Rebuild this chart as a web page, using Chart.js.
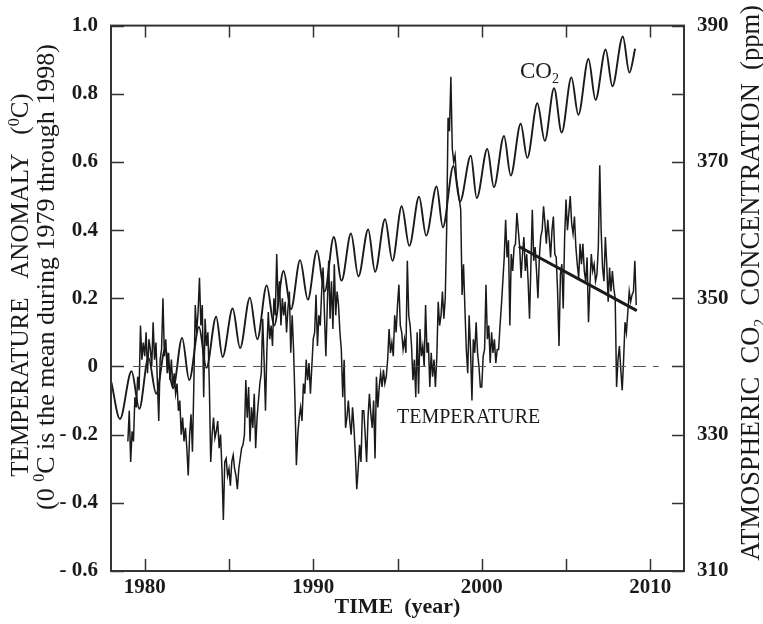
<!DOCTYPE html>
<html>
<head>
<meta charset="utf-8">
<script src="https://cdn.jsdelivr.net/npm/chart.js@4.4.1/dist/chart.umd.min.js"></script>
<style>
  html, body { margin: 0; padding: 0; background: #fff; }
  #wrap { width: 763px; height: 624px; position: relative; }
</style>
</head>
<body>
<div id="wrap"><canvas id="chart"></canvas></div>
<script>
// monthly lower troposphere temperature anomaly (deg C), one value per month from Jan 1979
const tempStart = 1979;
const tempAnomaly = [
  -0.22, -0.13, -0.28, -0.19, -0.22, -0.09, -0.12, -0.03, -0.07, 0.12, 0.02, 0.07,   // 1979
  0.03, 0.10, -0.02, 0.08, 0.05, 0.00, 0.13, 0.02, 0.07, -0.04, -0.16, 0.02,         // 1980
  0.05, 0.20, 0.03, 0.08, -0.02, 0.04, -0.04, 0.02, -0.06, -0.02, -0.08, -0.05,      // 1981
  -0.13, -0.10, -0.20, -0.15, -0.22, -0.18, -0.24, -0.32, -0.20, -0.14, -0.25, -0.05, // 1982
  0.18, 0.10, 0.16, 0.26, 0.12, 0.18, -0.09, 0.14, 0.06, 0.10, -0.05, -0.28,         // 1983
  -0.20, -0.15, -0.21, -0.19, -0.16, -0.24, -0.20, -0.30, -0.45, -0.28, -0.27, -0.32, // 1984
  -0.30, -0.35, -0.28, -0.26, -0.30, -0.32, -0.36, -0.30, -0.27, -0.24, -0.23, -0.20, // 1985
  -0.04, -0.15, -0.06, -0.22, -0.12, -0.18, -0.08, -0.24, -0.15, -0.10, -0.05, -0.02, // 1986
  0.14, 0.02, -0.13, 0.05, 0.16, 0.08, 0.12, 0.06, 0.20, 0.15, 0.33, 0.18,           // 1987
  0.25, 0.12, 0.20, 0.15, 0.19, 0.10, 0.17, 0.22, 0.04, 0.15, 0.05, -0.10,           // 1988
  -0.29, -0.20, -0.15, -0.12, -0.16, -0.05, -0.08, 0.02, -0.04, 0.01, -0.08, 0.00,   // 1989
  0.08, 0.10, 0.21, 0.06, 0.15, 0.12, 0.22, 0.29, 0.15, 0.03, 0.18, 0.31,            // 1990
  0.14, 0.25, 0.11, 0.30, 0.15, 0.22, 0.18, 0.10, 0.05, -0.09, 0.02, -0.18,          // 1991
  -0.15, -0.10, -0.16, -0.20, -0.12, -0.18, -0.26, -0.36, -0.30, -0.23, -0.28, -0.13, // 1992
  -0.13, -0.20, -0.28, -0.15, -0.08, -0.14, -0.18, -0.10, -0.27, -0.03, -0.12, -0.06, // 1993
  -0.02, -0.06, -0.01, -0.05, -0.03, 0.02, 0.11, 0.04, 0.07, 0.03, 0.15, 0.10,       // 1994
  0.18, 0.24, 0.12, 0.10, 0.05, 0.08, 0.04, 0.31, 0.15, 0.12, 0.06, -0.04,           // 1995
  0.02, -0.09, 0.10, -0.08, 0.11, 0.03, 0.06, 0.00, 0.18, 0.04, 0.07, -0.06,         // 1996
  0.04, -0.03, 0.02, -0.06, 0.03, 0.19, 0.12, 0.15, 0.22, 0.14, 0.20, 0.40,          // 1997
  0.73, 0.69, 0.85, 0.64, 0.60, 0.62, 0.55, 0.52, 0.49, 0.46, 0.21, 0.30,            // 1998
  0.17, 0.05, -0.02, 0.15, 0.05, -0.10, 0.08, 0.04, 0.13, 0.04, 0.00, -0.06,         // 1999
  -0.06, 0.03, 0.05, 0.24, 0.08, 0.12, 0.01, 0.10, 0.04, 0.08, 0.01, 0.05,           // 2000
  0.05, 0.12, 0.18, 0.25, 0.32, 0.43, 0.32, 0.37, 0.12, 0.33, 0.28, 0.35,            // 2001
  0.36, 0.45, 0.40, 0.35, 0.26, 0.33, 0.38, 0.28, 0.33, 0.25, 0.14, 0.30,            // 2002
  0.46, 0.31, 0.35, 0.28, 0.20, 0.32, 0.38, 0.40, 0.47, 0.42, 0.36, 0.43,            // 2003
  0.38, 0.32, 0.40, 0.44, 0.33, 0.32, 0.22, 0.06, 0.27, 0.30, 0.17, 0.38,            // 2004
  0.49, 0.40, 0.45, 0.50, 0.42, 0.39, 0.44, 0.35, 0.30, 0.26, 0.36, 0.30,            // 2005
  0.36, 0.28, 0.25, 0.32, 0.13, 0.24, 0.33, 0.28, 0.30, 0.25, 0.27, 0.35,            // 2006
  0.59, 0.40, 0.29, 0.25, 0.38, 0.30, 0.19, 0.29, 0.22, 0.28, 0.23, 0.20,            // 2007
  -0.06, 0.02, 0.06, -0.01, -0.07, 0.02, 0.13, 0.10, 0.16, 0.22, 0.19, 0.21,         // 2008
  0.22, 0.31, 0.18                                                                   // 2009
];

// CO2 seasonal highs and lows (ppm)
const co2Years = [
  1978.02, 1978.53, 1979.22, 1979.68, 1980.22, 1980.68, 1981.22, 1981.68,
  1982.22, 1982.64, 1983.22, 1983.66, 1984.24, 1984.62, 1985.22, 1985.66,
  1986.24, 1986.68, 1987.24, 1987.68, 1988.24, 1988.68, 1989.22, 1989.68,
  1990.22, 1990.68, 1991.22, 1991.68, 1992.24, 1992.68, 1993.26, 1993.67,
  1994.26, 1994.70, 1995.25, 1995.70, 1996.28, 1996.70, 1997.32, 1997.69,
  1998.32, 1998.71, 1999.35, 1999.70, 2000.33, 2000.72, 2001.32, 2001.72,
  2002.31, 2002.70, 2003.30, 2003.74, 2004.29, 2004.74, 2005.32, 2005.73,
  2006.33, 2006.75, 2007.35, 2007.75, 2008.37, 2008.76, 2009.10
];
const co2Ppm = [
  337.7, 332.3, 339.3, 333.8, 341.3, 336.0, 342.6, 336.8,
  344.2, 338.0, 345.8, 339.8, 347.3, 341.4, 348.5, 342.7,
  350.1, 344.0, 351.9, 346.0, 354.0, 348.4, 355.6, 349.8,
  357.0, 351.0, 359.0, 352.6, 359.5, 353.2, 360.1, 353.9,
  361.6, 355.5, 363.5, 357.7, 364.9, 359.2, 366.4, 360.4,
  369.4, 364.2, 370.9, 364.7, 371.9, 366.3, 373.8, 368.0,
  375.6, 370.6, 378.6, 373.1, 380.8, 374.3, 382.4, 376.9,
  385.1, 379.1, 386.5, 381.1, 388.4, 383.1, 386.6
];

// straight trend segment over the last years
const trendYears = [2002.2, 2009.2];
const trendValues = [0.352, 0.164];

// dashed zero reference
const zeroYears = [1979.3, 2010.5];
const zeroValues = [0, 0];

const SERIF = '"Liberation Serif", "Times New Roman", serif';
const INK = '#1a1a1a';

const tempPoints = tempAnomaly.map((v, i) => ({ x: tempStart + i / 12, y: v }));
const co2Points = co2Years.map((x, i) => ({ x: x, y: co2Ppm[i] }));
const trendPoints = trendYears.map((x, i) => ({ x: x, y: trendValues[i] }));
const zeroPoints = zeroYears.map((x, i) => ({ x: x, y: zeroValues[i] }));

// text with sub/superscripts; parts = [{t, s:'sup'|'sub'}]
function drawRich(ctx, parts, x, y, size, weight, angle, align) {
  ctx.save();
  ctx.translate(x, y);
  ctx.rotate(angle);
  const small = Math.round(size * 0.62);
  const fontOf = p => `${weight} ${p.s ? small : size}px ${SERIF}`;
  let total = 0;
  parts.forEach(p => { ctx.font = fontOf(p); total += ctx.measureText(p.t).width; });
  let cx = align === 'left' ? 0 : -total / 2;
  const base = size * 0.33;
  ctx.textBaseline = 'alphabetic';
  ctx.textAlign = 'left';
  ctx.fillStyle = INK;
  parts.forEach(p => {
    ctx.font = fontOf(p);
    const dy = p.s === 'sup' ? -size * 0.38 : p.s === 'sub' ? size * 0.22 : 0;
    ctx.fillText(p.t, cx, base + dy);
    cx += ctx.measureText(p.t).width;
  });
  ctx.restore();
}

const framePlugin = {
  id: 'frame',
  afterDraw(chart) {
    const { ctx, chartArea: a, scales } = chart;
    ctx.save();
    ctx.strokeStyle = '#333';
    ctx.lineWidth = 2;
    ctx.strokeRect(a.left, a.top, a.right - a.left, a.bottom - a.top);
    ctx.lineWidth = 1.5;
    ctx.beginPath();
    scales.x.ticks.forEach(t => {
      const px = Math.round(scales.x.getPixelForValue(t.value)) + 0.5;
      ctx.moveTo(px, a.bottom); ctx.lineTo(px, a.bottom - 12);
      ctx.moveTo(px, a.top); ctx.lineTo(px, a.top + 12);
    });
    scales.y.ticks.forEach(t => {
      const py = Math.round(scales.y.getPixelForValue(t.value)) + 0.5;
      ctx.moveTo(a.left, py); ctx.lineTo(a.left + 13, py);
    });
    scales.y2.ticks.forEach(t => {
      const py = Math.round(scales.y2.getPixelForValue(t.value)) + 0.5;
      ctx.moveTo(a.right - 12, py); ctx.lineTo(a.right, py);
    });
    ctx.stroke();
    ctx.restore();

    // axis titles
    const up = -Math.PI / 2;
    drawRich(ctx, [{ t: 'TEMPERATURE   ANOMALY   (' }, { t: '0', s: 'sup' }, { t: 'C)' }], 20, 285, 25, 'normal', up);
    drawRich(ctx, [{ t: '(0 ' }, { t: '0', s: 'sup' }, { t: 'C is the mean during 1979 through 1998)' }], 45, 277, 26, 'normal', up);
    drawRich(ctx, [{ t: 'ATMOSPHERIC  CO' }, { t: '2', s: 'sub' }, { t: '  CONCENTRATION  (ppm)' }], 750, 283, 26.5, 'normal', up);
    drawRich(ctx, [{ t: 'TIME  (year)' }], (a.left + a.right) / 2, 606, 22, 'bold', 0);

    // in-plot labels
    drawRich(ctx, [{ t: 'CO' }, { t: '2', s: 'sub' }], scales.x.getPixelForValue(2002.27), scales.y.getPixelForValue(0.868), 23, 'normal', 0, 'left');
    drawRich(ctx, [{ t: 'TEMPERATURE' }], scales.x.getPixelForValue(1994.97), scales.y.getPixelForValue(-0.147), 20, 'normal', 0, 'left');
  }
};

function fmtTemp(v) {
  const r = Math.round(v * 10) / 10;
  if (r === 0) return '0';
  if (r < 0) return '- ' + Math.abs(r).toFixed(1);
  return r.toFixed(1);
}

const tickFont = { family: SERIF, size: 21, weight: 'bold' };

new Chart(document.getElementById('chart'), {
  type: 'line',
  data: {
    datasets: [
      { label: 'zero', data: zeroPoints, borderColor: '#555', borderWidth: 1, borderDash: [13, 7], pointRadius: 0, yAxisID: 'y' },
      { label: 'Temperature', data: tempPoints, borderColor: INK, borderWidth: 1.5, pointRadius: 0, tension: 0, yAxisID: 'y' },
      { label: 'CO2', data: co2Points, borderColor: INK, borderWidth: 1.9, pointRadius: 0, cubicInterpolationMode: 'monotone', yAxisID: 'y2' },
      { label: 'trend', data: trendPoints, borderColor: INK, borderWidth: 3, pointRadius: 0, yAxisID: 'y' }
    ]
  },
  options: {
    responsive: true,
    maintainAspectRatio: false,
    animation: false,
    events: [],
    layout: { padding: { top: 14, left: 0, right: 0, bottom: 0 } },
    plugins: { legend: { display: false }, tooltip: { enabled: false } },
    scales: {
      x: {
        type: 'linear',
        min: 1978,
        max: 2012,
        afterFit: s => { s.height = 53; },
        grid: { display: false, drawTicks: false },
        border: { display: false },
        ticks: {
          stepSize: 5,
          includeBounds: false,
          autoSkip: false,
          maxRotation: 0,
          padding: 4,
          color: INK,
          font: tickFont,
          callback: v => (v % 10 === 0 ? String(v) : '')
        }
      },
      y: {
        position: 'left',
        min: -0.6,
        max: 1.0,
        afterFit: s => { s.width = 111; },
        grid: { display: false, drawTicks: false },
        border: { display: false },
        ticks: { stepSize: 0.2, autoSkip: false, padding: 13, color: INK, font: tickFont, callback: v => fmtTemp(v) }
      },
      y2: {
        position: 'right',
        min: 310,
        max: 390,
        afterFit: s => { s.width = 79; },
        grid: { display: false, drawTicks: false },
        border: { display: false },
        ticks: { stepSize: 10, autoSkip: false, padding: 13, color: INK, font: tickFont, callback: v => ((v - 310) % 20 === 0 ? String(v) : '') }
      }
    }
  },
  plugins: [framePlugin]
});
</script>
</body>
</html>
